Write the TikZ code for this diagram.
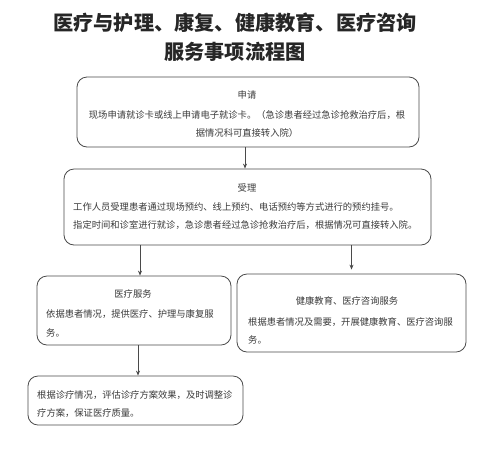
\documentclass[tikz,border=0pt]{standalone}
\usepackage{fontspec}
\setmainfont{Noto Sans CJK SC}
\usetikzlibrary{arrows.meta}
\definecolor{txt}{HTML}{3A3A3A}
\definecolor{edge}{HTML}{4A4A4A}
\tikzset{
  box/.style={draw=edge, line width=0.8pt, rounded corners=10pt, rectangle, inner sep=0pt},
  hd/.style={text=txt, inner sep=0pt, font=\fontsize{9.3}{18.5}\selectfont},
  bodyc/.style={text=txt, inner sep=0pt, align=center, font=\fontsize{9.3}{18.5}\selectfont},
  bodyl/.style={text=txt, inner sep=0pt, align=left, anchor=west, font=\fontsize{9.3}{18.5}\selectfont},
  ttl/.style={text=black!85, inner sep=0pt, font=\bfseries\fontsize{20.2}{24}\selectfont},
  arr/.style={draw=edge, line width=0.8pt, -{Stealth[length=5pt,width=4pt]}}
}
\begin{document}
\begin{tikzpicture}[x=1pt,y=-1pt]
\useasboundingbox (0,0) rectangle (497,456);
\fill[white] (0,0) rectangle (497,456);
% title
\node[ttl] (t1) at (235,23) {医疗与护理、康复、健康教育、医疗咨询};
\node[ttl] (t2) at (235,52) {服务事项流程图};
% boxes
\node[box, minimum width=342pt, minimum height=70pt] (b1) at (248,112) {};
\node[box, minimum width=367pt, minimum height=76pt] (b2) at (247.5,207) {};
\node[box, minimum width=194pt, minimum height=69pt] (b3) at (134,310.5) {};
\node[box, minimum width=229pt, minimum height=78pt] (b4) at (351.5,313) {};
\node[box, minimum width=215pt, minimum height=49pt] (b5) at (135.5,400.5) {};
% texts
\node[hd] (h1) at (247,95) {申请};
\node[bodyc] (x1) at (247,124) {现场申请就诊卡或线上申请电子就诊卡。（急诊患者经过急诊抢救治疗后，根\\据情况科可直接转入院）};
\node[hd] (h2) at (247,188) {受理};
\node[bodyl] (x2) at (73,216) {工作人员受理患者通过现场预约、线上预约、电话预约等方式进行的预约挂号。\\指定时间和诊室进行就诊，急诊患者经过急诊抢救治疗后，根据情况可直接转入院。};
\node[hd] (h3) at (133,294) {医疗服务};
\node[bodyl] (x3) at (46,323.5) {依据患者情况，提供医疗、护理与康复服\\务。};
\node[hd] (h4) at (347,301) {健康教育、医疗咨询服务};
\node[bodyl] (x4) at (248,331) {根据患者情况及需要，开展健康教育、医疗咨询服\\务。};
\node[bodyl] (x5) at (37,404) {根据诊疗情况，评估诊疗方案效果，及时调整诊\\疗方案，保证医疗质量。};
% arrows
\draw[arr] ([xshift=-3pt]b1.south) -- ([xshift=-3pt]b1.south |- b2.north);
\draw[arr] ([xshift=6pt]b3.north |- b2.south) -- ([xshift=6pt]b3.north);
\draw[arr, shorten >=4pt] (b4.north |- b2.south) -- (b4.north);
\draw[arr] ([xshift=4pt]b3.south) -- ([xshift=4pt]b3.south |- b5.north);
\end{tikzpicture}
\end{document}
